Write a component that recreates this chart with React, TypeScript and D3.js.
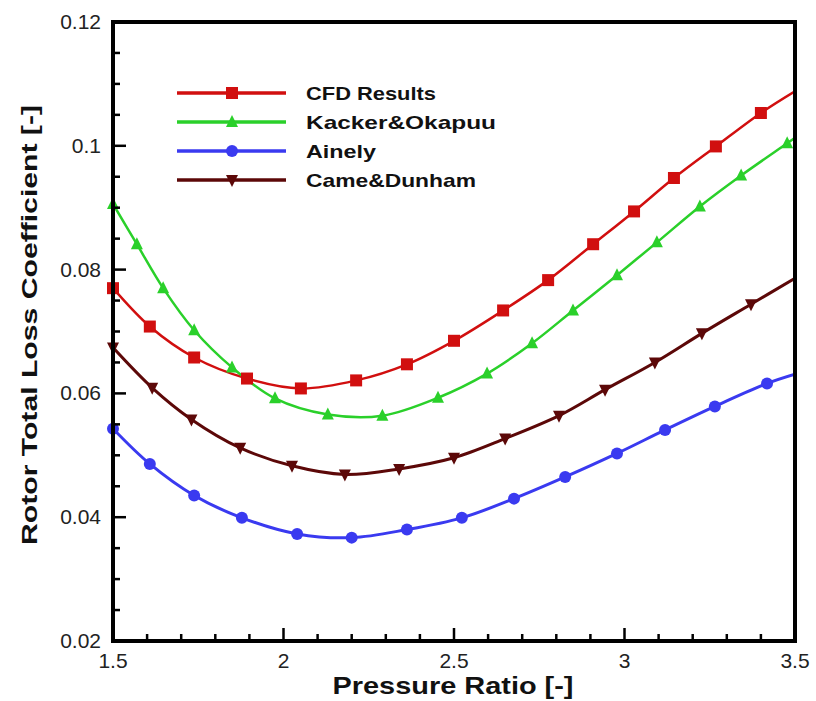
import React from "react";
import * as d3 from "d3";

const xTicks = [1.5, 2, 2.5, 3, 3.5];
const xTickLabels = ["1.5", "2", "2.5", "3", "3.5"];
const yTicks = [0.02, 0.04, 0.06, 0.08, 0.1, 0.12];
const yTickLabels = ["0.02", "0.04", "0.06", "0.08", "0.1", "0.12"];

const cfdX = [1.5, 1.608, 1.738, 1.893, 2.051, 2.213, 2.362, 2.5, 2.644, 2.776, 2.908, 3.028, 3.145, 3.268, 3.4, 3.5];
const cfdY = [0.077, 0.0708, 0.0658, 0.0624, 0.0608, 0.0621, 0.0647, 0.0685, 0.0734, 0.0783, 0.0841, 0.0894, 0.0948, 0.0999, 0.1053, 0.1088];

const kackerX = [1.5, 1.57, 1.647, 1.738, 1.849, 1.975, 2.13, 2.29, 2.453, 2.597, 2.729, 2.849, 2.978, 3.095, 3.221, 3.342, 3.477, 3.5];
const kackerY = [0.0906, 0.0841, 0.077, 0.0702, 0.0642, 0.0592, 0.0566, 0.0564, 0.0593, 0.0632, 0.0681, 0.0734, 0.0791, 0.0844, 0.0902, 0.0952, 0.1004, 0.1013];

const ainelyX = [1.5, 1.608, 1.738, 1.878, 2.04, 2.2, 2.362, 2.523, 2.676, 2.826, 2.978, 3.119, 3.265, 3.418, 3.5];
const ainelyY = [0.0543, 0.0486, 0.0435, 0.0399, 0.0373, 0.0367, 0.038, 0.0399, 0.043, 0.0465, 0.0503, 0.0541, 0.0579, 0.0616, 0.0631];

const cameX = [1.5, 1.615, 1.73, 1.873, 2.025, 2.18, 2.339, 2.5, 2.65, 2.808, 2.943, 3.089, 3.227, 3.371, 3.5];
const cameY = [0.0674, 0.0609, 0.0558, 0.0512, 0.0483, 0.0469, 0.0478, 0.0496, 0.0527, 0.0564, 0.0606, 0.065, 0.0697, 0.0744, 0.0786];

const seriesNames = ["CFD Results", "Kacker&Okapuu", "Ainely", "Came&Dunham"];
const seriesColors = ["#d10f0f", "#2ad02a", "#3a3af0", "#5c0808"];
const seriesMarkers = ["square", "triUp", "circle", "triDown"];

const W = 816;
const H = 701;
const left = 113;
const right = 795;
const top = 22;
const bottom = 641;

function Marker({ kind, x, y, color }: { kind: string; x: number; y: number; color: string }) {
  if (kind === "square") {
    return <rect x={x - 6} y={y - 6} width={12} height={12} fill={color} />;
  }
  if (kind === "circle") {
    return <circle cx={x} cy={y} r={6} fill={color} />;
  }
  if (kind === "triUp") {
    return <path d={`M${x},${y - 7}L${x + 6},${y + 5}L${x - 6},${y + 5}Z`} fill={color} />;
  }
  return <path d={`M${x},${y + 7}L${x + 6},${y - 5}L${x - 6},${y - 5}Z`} fill={color} />;
}

export default function App() {
  const x = d3.scaleLinear().domain([1.5, 3.5]).range([left, right]);
  const y = d3.scaleLinear().domain([0.02, 0.12]).range([bottom, top]);

  const series = [
    { xs: cfdX, ys: cfdY },
    { xs: kackerX, ys: kackerY },
    { xs: ainelyX, ys: ainelyY },
    { xs: cameX, ys: cameY },
  ];

  const line = d3
    .line<[number, number]>()
    .x((d) => x(d[0]))
    .y((d) => y(d[1]))
    .curve(d3.curveCatmullRom.alpha(0.5));

  const xMinor = d3.range(15, 36).map((v) => v / 10);
  const yMinor = d3.range(4, 25).map((v) => v / 200);

  const legendY = [93, 122, 151, 180];
  const legendW = [130, 190, 70, 170];

  return (
    <svg
      width={W}
      height={H}
      style={{ position: "absolute", left: 0, top: 0, background: "#fff" }}
      fontFamily="Liberation Sans, Arial, sans-serif"
    >
      <rect x={0} y={0} width={W} height={H} fill="#fff" />
      <defs>
        <clipPath id="plotclip">
          <rect x={left} y={top} width={right - left} height={bottom - top} />
        </clipPath>
      </defs>

      {/* curves */}
      <g clipPath="url(#plotclip)">
        {series.map((s, i) => {
          const pts = s.xs.map((v, j) => [v, s.ys[j]] as [number, number]);
          return (
            <path key={i} d={line(pts) || ""} fill="none" stroke={seriesColors[i]} strokeWidth={i >= 2 ? 3 : 2.5} />
          );
        })}
      </g>
      {series.map((s, i) =>
        s.xs.map((v, j) =>
          v < 3.499 ? (
            <Marker key={`${i}-${j}`} kind={seriesMarkers[i]} x={x(v)} y={y(s.ys[j])} color={seriesColors[i]} />
          ) : null
        )
      )}

      {/* ticks */}
      {xMinor.map((v, i) => {
        const major = Math.abs(v * 2 - Math.round(v * 2)) < 1e-6;
        return (
          <line key={`xm${i}`} x1={x(v)} x2={x(v)} y1={bottom} y2={bottom - (major ? 13 : 7)} stroke="#000" strokeWidth={2.5} />
        );
      })}
      {yMinor.map((v, i) => {
        const major = Math.abs(v * 50 - Math.round(v * 50)) < 1e-6;
        return (
          <line key={`ym${i}`} x1={left} x2={left + (major ? 13 : 7)} y1={y(v)} y2={y(v)} stroke="#000" strokeWidth={2.5} />
        );
      })}

      {/* frame */}
      <rect x={left} y={top} width={right - left} height={bottom - top} fill="none" stroke="#000" strokeWidth={4} />

      {/* tick labels */}
      {yTicks.map((v, i) => (
        <text key={`yl${i}`} x={101} y={y(v) + 7} fontSize={21} textAnchor="end" fill="#222">
          {yTickLabels[i]}
        </text>
      ))}
      {xTicks.map((v, i) => (
        <text key={`xl${i}`} x={x(v)} y={668} fontSize={21} textAnchor="middle" fill="#222">
          {xTickLabels[i]}
        </text>
      ))}

      {/* axis titles */}
      <text x={453} y={694} fontSize={24} fontWeight="bold" textAnchor="middle" textLength={241} lengthAdjust="spacingAndGlyphs" fill="#111">
        Pressure Ratio [-]
      </text>
      <text
        transform={`translate(37,${325}) rotate(-90)`}
        fontSize={22}
        fontWeight="bold"
        textAnchor="middle"
        textLength={440}
        lengthAdjust="spacingAndGlyphs"
        fill="#111"
      >
        Rotor Total Loss Coefficient [-]
      </text>

      {/* legend */}
      {seriesNames.map((name, i) => (
        <g key={`lg${i}`}>
          <line x1={177} x2={286} y1={legendY[i]} y2={legendY[i]} stroke={seriesColors[i]} strokeWidth={3.5} />
          <Marker kind={seriesMarkers[i]} x={232} y={legendY[i]} color={seriesColors[i]} />
          <text x={306} y={legendY[i] + 7} fontSize={19} fontWeight="bold" textLength={legendW[i]} lengthAdjust="spacingAndGlyphs" fill="#111">
            {name}
          </text>
        </g>
      ))}
    </svg>
  );
}
